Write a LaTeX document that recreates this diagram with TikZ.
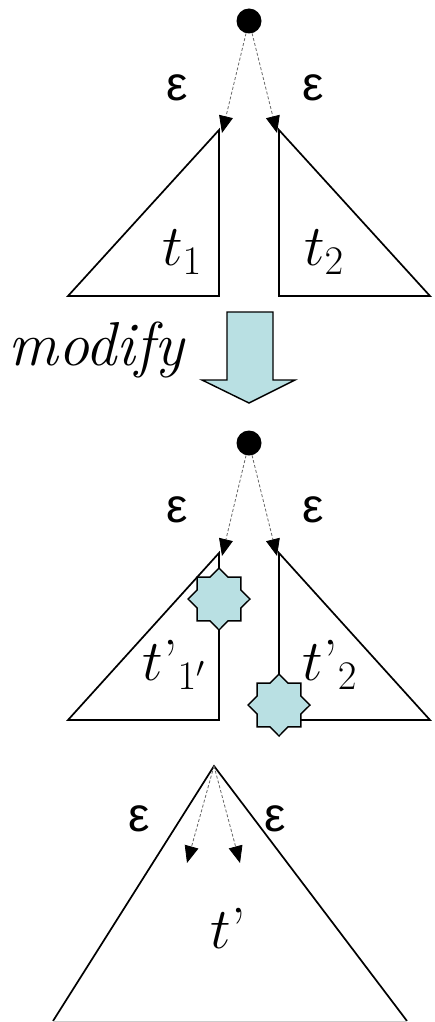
\documentclass[tikz,border=0pt]{standalone}
\usepackage{fix-cm}
\usepackage{fontspec}
\usepackage{xcolor}
\usepackage{tikz}
\usetikzlibrary{shapes.geometric, arrows.meta, positioning, calc}
\newfontfamily\epsfont{Liberation Sans}
\definecolor{paleblue}{RGB}{185,224,227}

\begin{document}
\begin{tikzpicture}[
    x=1pt, y=-1pt,
    dot/.style={circle, fill=black, inner sep=0pt, minimum size=25pt},
    tree/.style={draw=black, line width=1.7pt, line join=miter},
    change/.style={star, star points=8, star point ratio=1.31, draw=black, line width=1.4pt, fill=paleblue, minimum size=62pt, inner sep=0pt},
    eps/.style={font=\epsfont\fontsize{48}{48}\selectfont},
    lbl/.style={font=\fontsize{58}{58}\selectfont},
    link/.style={-{Triangle[length=17pt, width=14pt, color=black]}, densely dashed, draw=black!60, line width=0.8pt}
]
\useasboundingbox (0,0) rectangle (434,1022);

% Before: two subtrees below a root
\node[dot] (root) at (249,21) {};
\draw[tree] (219,130) coordinate (l1) -- (68,296) -- (219,296) -- cycle;
\draw[tree] (279,130) coordinate (r1) -- (430,296) -- (279,296) -- cycle;
\node[lbl] (t1) at (182,252) {$t_1$};
\node[lbl] (t2) at (324,252) {$t_2$};
\node[eps] (e1) at (177,88) {ε};
\node[eps] (e2) at (313,88) {ε};
\draw[link] (root) -- ([xshift=3pt, yshift=-3pt]l1);
\draw[link] (root) -- ([xshift=-2pt, yshift=-3pt]r1);

% Modification step
\draw[line width=1.4pt, fill=paleblue] (227,312) -- (273,312) -- (273,380) -- (295,380) -- (249,403) -- (202,380) -- (227,380) -- cycle;
\node[font=\itshape\fontsize{62}{62}\selectfont] (mod) at (96,350) {modify};

% After: modified subtrees
\node[dot] (root2) at (249,443) {};
\draw[tree] (219,553) coordinate (l2) -- (68,720) -- (219,720) -- cycle;
\draw[tree] (279,553) coordinate (r2) -- (430,720) -- (279,720) -- cycle;
\node[change] (s1) at (219,599) {};
\node[change] (s2) at (279,705) {};
\node[lbl] (t1p) at (174,665) {$t\mbox{’}_{1'}$};
\node[lbl] (t2p) at (330,665) {$t\mbox{’}_{2}$};
\node[eps] (e3) at (177,510) {ε};
\node[eps] (e4) at (313,510) {ε};
\draw[link] (root2) -- ([xshift=3pt, yshift=-3pt]l2);
\draw[link] (root2) -- ([xshift=-2pt, yshift=-3pt]r2);

% Result: merged tree
\coordinate (top) at (214,766);
\coordinate (c1) at (187,863);
\coordinate (c2) at (240,863);
\draw[tree] (53,1021) -- (top) -- (407,1021);
\draw[draw=black!20, line width=1pt] (53,1021) -- (407,1021);
\draw[link] (top) -- (c1);
\draw[link] (top) -- (c2);
\node[eps] (e5) at (139,819) {ε};
\node[eps] (e6) at (275,819) {ε};
\node[lbl] (tp) at (228,928) {$t\mbox{’}$};

\end{tikzpicture}
\end{document}
